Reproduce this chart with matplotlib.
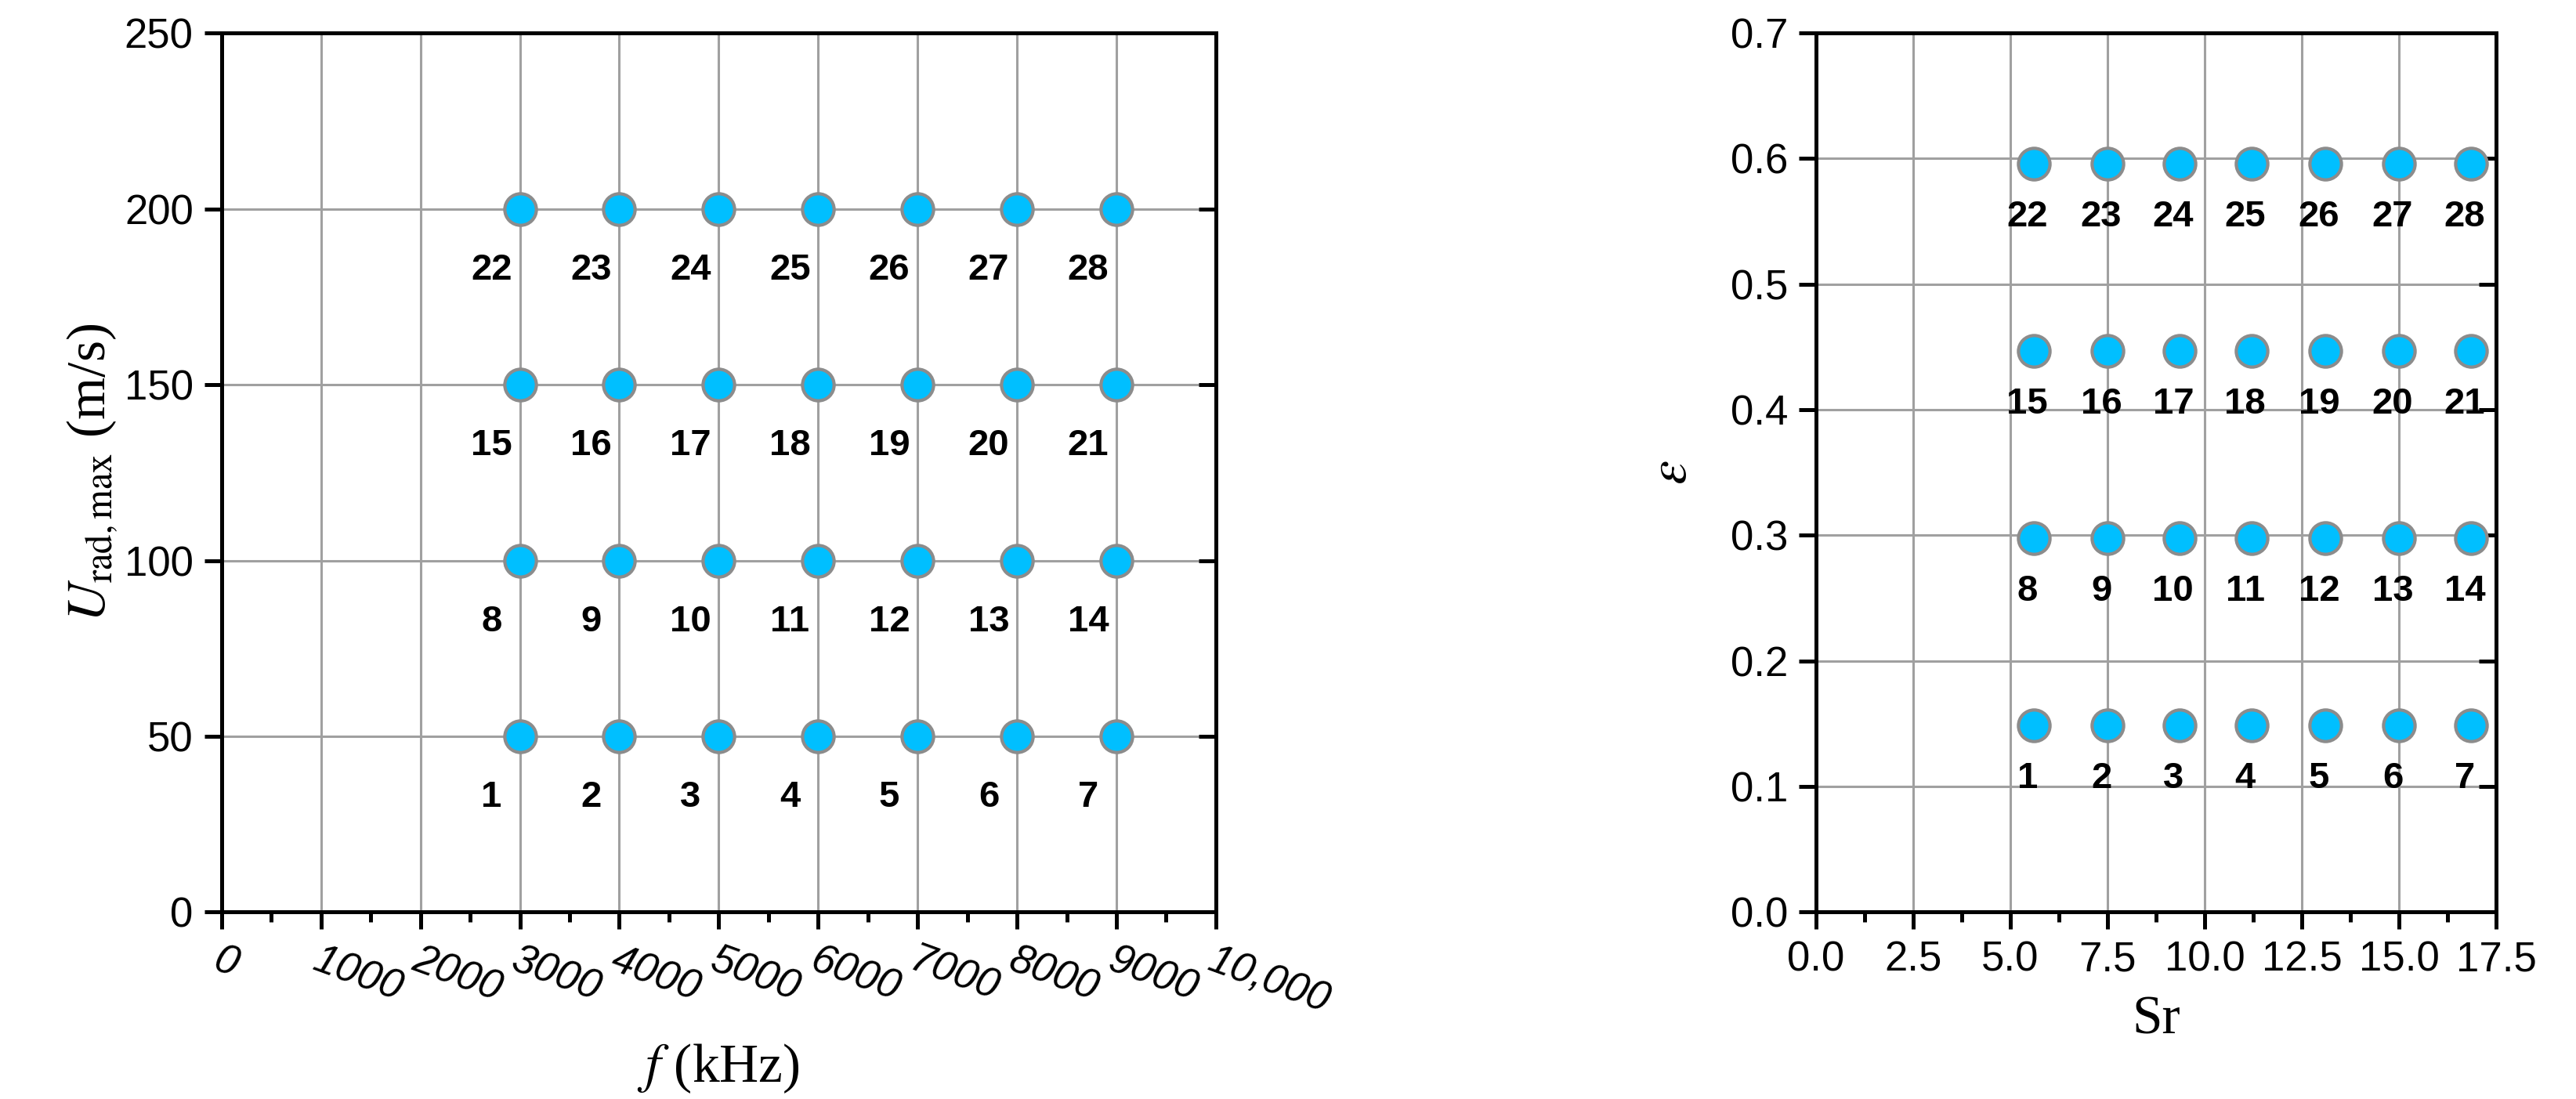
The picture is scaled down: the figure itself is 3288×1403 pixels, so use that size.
import matplotlib.pyplot as plt
from matplotlib.ticker import MultipleLocator

freq = [3000, 4000, 5000, 6000, 7000, 8000, 9000]
urad = [50, 100, 150, 200]
sr = [5.6, 7.5, 9.35, 11.2, 13.1, 15.0, 16.85]
eps = [0.149, 0.298, 0.447, 0.596]
xtick_labels = ['0', '1000', '2000', '3000', '4000', '5000', '6000', '7000', '8000', '9000', '10,000']

plt.rcParams['font.family'] = ['Liberation Sans', 'DejaVu Sans']
plt.rcParams['mathtext.fontset'] = 'stix'

fig = plt.figure(figsize=(32.88, 14.03), dpi=100)
ax1 = fig.add_axes([0.086, 0.170, 0.386, 0.800])
ax2 = fig.add_axes([0.705, 0.170, 0.264, 0.800])


def style(ax):
    ax.grid(True, color='#a0a0a0', lw=2.2)
    ax.set_axisbelow(True)
    for s in ax.spines.values():
        s.set_linewidth(3.6)
    ax.tick_params(which='major', direction='out', length=16, width=3.6,
                   labelsize=38, pad=10)
    ax.tick_params(which='minor', direction='out', length=9, width=3.6)
    ax.tick_params(axis='y', which='both', right=True, left=True)


def points(ax, xs, ys, off):
    n = 1
    for y in ys:
        for x in xs:
            ax.plot(x, y, 'o', ms=29, mfc='#00bfff', mec='#8c8c8c', mew=3,
                    zorder=5, clip_on=False)
            ax.annotate(str(n), (x, y), xytext=off, textcoords='offset pixels',
                        ha='center', va='center', fontsize=34, fontweight='bold')
            n += 1


# left panel
style(ax1)
ax1.set_xlim(0, 10000)
ax1.set_ylim(0, 250)
ax1.xaxis.set_minor_locator(MultipleLocator(500))
ax1.yaxis.set_major_locator(MultipleLocator(50))
ax1.set_xticks(range(0, 10001, 1000), xtick_labels, rotation=-20, ha='left',
               style='italic', rotation_mode='anchor')
points(ax1, freq, urad, (-36, -78))
ax1.set_xlabel(r'$f$ (kHz)', family='Liberation Serif', fontsize=50, labelpad=20)
ax1.set_ylabel(r'$U_{\mathrm{rad,max}}$ (m/s)', family='Liberation Serif', fontsize=50)

# right panel
style(ax2)
ax2.set_xlim(0, 17.5)
ax2.set_ylim(0, 0.7)
ax2.xaxis.set_major_locator(MultipleLocator(2.5))
ax2.xaxis.set_minor_locator(MultipleLocator(1.25))
ax2.yaxis.set_major_locator(MultipleLocator(0.1))
ax2.xaxis.set_major_formatter(lambda v, p: f'{v:.1f}')
ax2.yaxis.set_major_formatter(lambda v, p: f'{v:.1f}')
points(ax2, sr, eps, (-8, -68))
ax2.set_xlabel('Sr', family='Liberation Serif', fontsize=50, labelpad=15)
ax2.set_ylabel(r'$\varepsilon$', family='Liberation Serif', fontsize=50, labelpad=30)

for ax in (ax1, ax2):
    for t in ax.yaxis.get_major_ticks():
        t.tick2line.set_marker(0)  # inward on right

fig.savefig('out.png', dpi=100)
